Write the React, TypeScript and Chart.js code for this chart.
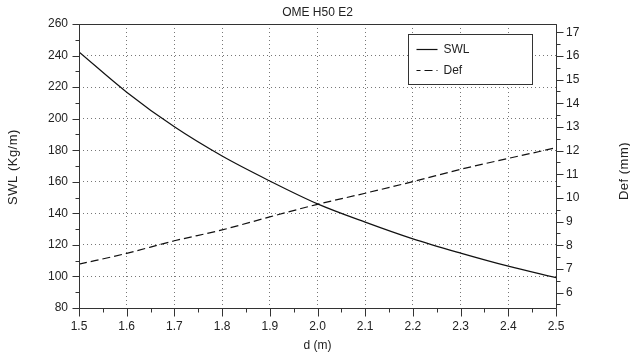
import React, { useEffect, useRef } from 'react';
import { Chart, registerables } from 'chart.js';

Chart.register(...registerables);

const TITLE = 'OME H50 E2';
const X_LABEL = 'd (m)';
const Y_LEFT_LABEL = 'SWL (Kg/m)';
const Y_RIGHT_LABEL = 'Def (mm)';

const D_VALUES = [1.5, 1.6, 1.7, 1.8, 1.9, 2.0, 2.1, 2.2, 2.3, 2.4, 2.5];
const SWL_VALUES = [242.3, 216.8, 194.8, 176.3, 160.5, 146.0, 134.4, 123.8, 114.8, 106.5, 99.2];
const DEF_VALUES = [7.2, 7.66, 8.19, 8.65, 9.2, 9.73, 10.2, 10.69, 11.21, 11.67, 12.12];

const X_TICKS = [1.5, 1.6, 1.7, 1.8, 1.9, 2.0, 2.1, 2.2, 2.3, 2.4, 2.5];
const LEFT_TICKS = [80, 100, 120, 140, 160, 180, 200, 220, 240, 260];
const RIGHT_TICKS = [6, 7, 8, 9, 10, 11, 12, 13, 14, 15, 16, 17];
const RIGHT_MIN = 5.35;
const RIGHT_MAX = 17.35;

const FONT_FAMILY = '"Liberation Sans", Arial, Helvetica, sans-serif';
const TEXT_COLOR = '#222';
const AXIS_COLOR = '#333';
const GRID_COLOR = '#777';
const LINE_COLOR = '#111';

const minorsOf = (majors: number[], lo: number, hi: number) => {
  const out: number[] = [];
  const step = majors[1] - majors[0];
  const cands = [majors[0] - step / 2, ...majors.map((v) => v + step / 2)];
  for (const v of cands) if (v >= lo - 1e-9 && v <= hi + 1e-9) out.push(v);
  return out;
};

const decorPlugin = {
  id: 'decor',
  afterDraw(chart: any) {
    const { ctx, chartArea: a, scales } = chart;
    const L = Math.round(a.left) + 0.5;
    const R = Math.round(a.right) + 0.5;
    const T = Math.round(a.top) + 0.5;
    const B = Math.round(a.bottom) + 0.5;
    ctx.save();
    ctx.strokeStyle = AXIS_COLOR;
    ctx.lineWidth = 1;
    ctx.setLineDash([]);
    ctx.beginPath();
    ctx.rect(L, T, R - L, B - T);
    ctx.stroke();

    const seg = (x1: number, y1: number, x2: number, y2: number) => {
      ctx.beginPath();
      ctx.moveTo(x1, y1);
      ctx.lineTo(x2, y2);
      ctx.stroke();
    };
    const MAJ = 7;
    const MIN = 4;
    const yL = scales.y;
    LEFT_TICKS.forEach((v) => {
      const p = Math.round(yL.getPixelForValue(v)) + 0.5;
      seg(L - MAJ, p, L, p);
    });
    minorsOf(LEFT_TICKS, yL.min, yL.max).forEach((v) => {
      const p = Math.round(yL.getPixelForValue(v)) + 0.5;
      seg(L - MIN, p, L, p);
    });
    const yR = scales.y1;
    RIGHT_TICKS.forEach((v) => {
      const p = Math.round(yR.getPixelForValue(v)) + 0.5;
      seg(R, p, R + MAJ, p);
    });
    minorsOf(RIGHT_TICKS, yR.min, yR.max).forEach((v) => {
      const p = Math.round(yR.getPixelForValue(v)) + 0.5;
      seg(R, p, R + MIN, p);
    });
    const xs = scales.x;
    X_TICKS.forEach((v) => {
      const p = Math.round(xs.getPixelForValue(v)) + 0.5;
      seg(p, B, p, B + MAJ + 1);
    });
    minorsOf(X_TICKS, xs.min, xs.max).forEach((v) => {
      const p = Math.round(xs.getPixelForValue(v)) + 0.5;
      seg(p, B, p, B + MIN);
    });

    ctx.fillStyle = TEXT_COLOR;
    ctx.font = `12px ${FONT_FAMILY}`;
    ctx.textAlign = 'center';
    ctx.textBaseline = 'middle';
    const cx = (a.left + a.right) / 2;
    const cy = (a.top + a.bottom) / 2;
    ctx.fillText(TITLE, cx, 12.5);
    ctx.fillText(X_LABEL, cx, 345.5);
    ctx.font = `13px ${FONT_FAMILY}`;
    ctx.save();
    try {
      ctx.letterSpacing = '0.5px';
    } catch (e) {
      /* ignore */
    }
    ctx.translate(13, cy + 1);
    ctx.rotate(-Math.PI / 2);
    ctx.fillText(Y_LEFT_LABEL, 0, 0);
    ctx.restore();
    ctx.save();
    try {
      ctx.letterSpacing = '0.5px';
    } catch (e) {
      /* ignore */
    }
    ctx.translate(624, cy + 5);
    ctx.rotate(-Math.PI / 2);
    ctx.fillText(Y_RIGHT_LABEL, 0, 0);
    ctx.restore();
    ctx.font = `12px ${FONT_FAMILY}`;

    const bw = 124;
    const bh = 50;
    const bx = Math.round(a.right) - 24 - bw + 0.5;
    const by = Math.round(a.top) + 10 + 0.5;
    ctx.fillStyle = '#fff';
    ctx.fillRect(bx, by, bw, bh);
    ctx.strokeStyle = AXIS_COLOR;
    ctx.lineWidth = 1;
    ctx.strokeRect(bx, by, bw, bh);
    chart.data.datasets.forEach((ds: any, i: number) => {
      const ry = Math.round(by + 14 + i * 21.3) + 0.5;
      ctx.strokeStyle = LINE_COLOR;
      ctx.lineWidth = 1.2;
      ctx.setLineDash(ds.borderDash || []);
      ctx.lineDashOffset = ds.borderDash ? 4 : 0;
      seg(bx + 8, ry, bx + 29, ry);
      ctx.setLineDash([]);
      ctx.fillStyle = TEXT_COLOR;
      ctx.textAlign = 'left';
      ctx.textBaseline = 'middle';
      ctx.fillText(ds.label, bx + 35, ry);
    });
    ctx.restore();
  },
};

export default function App() {
  const ref = useRef<HTMLCanvasElement | null>(null);
  useEffect(() => {
    document.body.style.margin = '0';
    const canvas = ref.current;
    if (!canvas) return;
    const tickFont = { family: FONT_FAMILY, size: 12 };
    const chart = new Chart(canvas, {
      type: 'line',
      data: {
        datasets: [
          {
            label: 'SWL',
            data: D_VALUES.map((d, i) => ({ x: d, y: SWL_VALUES[i] })),
            borderColor: LINE_COLOR,
            borderWidth: 1.2,
            pointRadius: 0,
            cubicInterpolationMode: 'monotone',
            yAxisID: 'y',
          },
          {
            label: 'Def',
            data: D_VALUES.map((d, i) => ({ x: d, y: DEF_VALUES[i] })),
            borderColor: LINE_COLOR,
            borderWidth: 1.2,
            borderDash: [8, 4],
            pointRadius: 0,
            cubicInterpolationMode: 'monotone',
            yAxisID: 'y1',
          },
        ],
      },
      options: {
        responsive: false,
        animation: false,
        devicePixelRatio: 1,
        layout: { padding: { top: 24, left: 0, right: 0, bottom: 0 } },
        plugins: {
          legend: { display: false },
          title: { display: false },
          tooltip: { enabled: false },
        },
        scales: {
          x: {
            type: 'linear',
            position: 'bottom',
            min: 1.5,
            max: 2.5,
            afterBuildTicks: (axis: any) => {
              axis.ticks = X_TICKS.map((v) => ({ value: v }));
            },
            afterFit: (axis: any) => {
              axis.height = 50;
            },
            ticks: {
              font: tickFont,
              color: TEXT_COLOR,
              padding: 11,
              maxRotation: 0,
              autoSkip: false,
              callback: (v: any) => Number(v).toFixed(1),
            },
            grid: { color: GRID_COLOR, lineWidth: 1, drawTicks: false },
            border: { display: false, dash: [1, 3] },
          },
          y: {
            type: 'linear',
            position: 'left',
            min: 80,
            max: 260,
            afterBuildTicks: (axis: any) => {
              axis.ticks = LEFT_TICKS.map((v) => ({ value: v }));
            },
            afterFit: (axis: any) => {
              axis.width = 79;
            },
            ticks: { font: tickFont, color: TEXT_COLOR, padding: 11, autoSkip: false },
            grid: { color: GRID_COLOR, lineWidth: 1, drawTicks: false },
            border: { display: false, dash: [1, 3] },
          },
          y1: {
            type: 'linear',
            position: 'right',
            min: RIGHT_MIN,
            max: RIGHT_MAX,
            afterBuildTicks: (axis: any) => {
              axis.ticks = RIGHT_TICKS.map((v) => ({ value: v }));
            },
            afterFit: (axis: any) => {
              axis.width = 74;
            },
            ticks: { font: tickFont, color: TEXT_COLOR, padding: 10, autoSkip: false },
            grid: { drawOnChartArea: false, drawTicks: false },
            border: { display: false },
          },
        },
      },
      plugins: [decorPlugin],
    } as any);
    return () => chart.destroy();
  }, []);
  return (
    <div style={{ position: 'absolute', left: 0, top: 0, width: 630, height: 358 }}>
      <canvas ref={ref} width={630} height={358} style={{ display: 'block' }} />
    </div>
  );
}
